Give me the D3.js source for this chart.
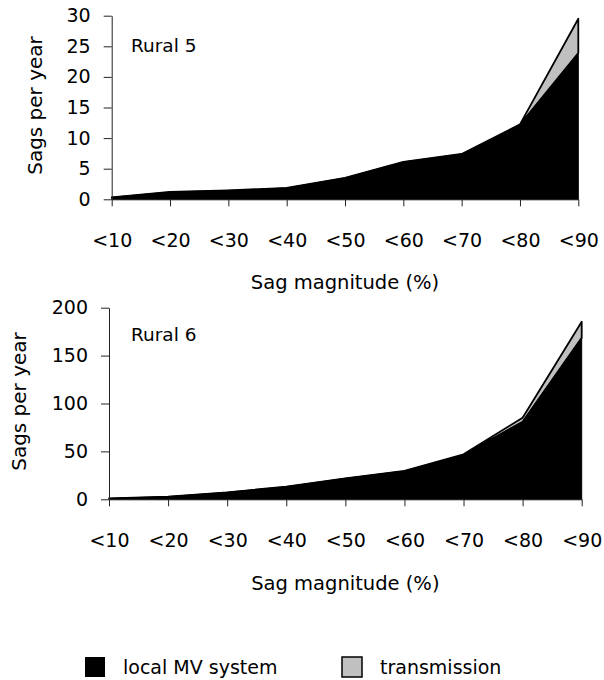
<!DOCTYPE html>
<html><head><meta charset="utf-8">
<script src="https://cdn.jsdelivr.net/npm/d3@7"></script>
<style>
body{margin:0;background:#fff}
svg text{font-family:"DejaVu Sans",sans-serif;fill:#000}
</style></head>
<body><svg id="chart" width="604" height="680"></svg>
<script>
const categories = ["<10","<20","<30","<40","<50","<60","<70","<80","<90"];
const rural5Local = [0.33,1.2,1.45,1.85,3.5,6.1,7.4,12.2,23.9];
const rural5Trans = [0,0,0,0,0,0,0,0.05,5.6];
const rural6Local = [1,2.8,7.3,13.2,21.9,29.6,46.5,81,168.7];
const rural6Trans = [0,0,0,0,0,0,0.5,4.2,16.7];
const rural5Ticks = [0,5,10,15,20,25,30];
const rural6Ticks = [0,50,100,150,200];
const seriesNames = ["local MV system","transmission"];
const seriesColors = ["#000000","#c0c0c0"];

const svg = d3.select("#chart");

function panel(opts){
  const {local, trans, ticks, yMax, left, right, top, bottom, name, titleX, labelX, labelY, xTitleY} = opts;
  const x = d3.scalePoint().domain(categories).range([left,right]);
  const y = d3.scaleLinear().domain([0,yMax]).range([bottom,top]);
  const rows = categories.map((c,i)=>({cat:c, local:local[i], trans:trans[i]}));
  const stack = d3.stack().keys(["local","trans"])(rows);
  const area = d3.area().x(d=>x(d.data.cat)).y0(d=>y(d[0])).y1(d=>y(d[1]));
  const g = svg.append("g");
  g.append("path").datum(stack[1]).attr("d",area)
    .attr("fill",seriesColors[1]).attr("stroke","#000").attr("stroke-width",1.8).attr("stroke-linejoin","round");
  g.append("path").datum(stack[0]).attr("d",area)
    .attr("fill",seriesColors[0]).attr("stroke","#000").attr("stroke-width",1);

  const ya = g.append("g").attr("transform",`translate(${left},0)`)
    .call(d3.axisLeft(y).tickValues(ticks).tickSize(8).tickSizeOuter(0).tickPadding(13));
  const xa = g.append("g").attr("transform",`translate(0,${bottom})`)
    .call(d3.axisBottom(x).tickSize(7).tickSizeOuter(0).tickPadding(27));
  [ya,xa].forEach(a=>{
    a.selectAll("text").style("font-size","19px").attr("fill","#000");
    a.select(".domain").attr("stroke","#222");
    a.selectAll(".tick line").attr("stroke","#222");
  });

  g.append("text").attr("transform",`translate(${titleX},${(top+bottom)/2 - 2}) rotate(-90)`)
    .attr("text-anchor","middle").attr("dominant-baseline","central")
    .style("font-size","20px").text("Sags per year");
  g.append("text").attr("x",labelX).attr("y",labelY)
    .attr("dominant-baseline","central").style("font-size","18.5px").text(name);
  g.append("text").attr("x",(left+right)/2).attr("y",xTitleY)
    .attr("text-anchor","middle").attr("dominant-baseline","central")
    .style("font-size","19.5px").text("Sag magnitude (%)");
}

panel({local:rural5Local, trans:rural5Trans, ticks:rural5Ticks, yMax:30,
  left:111.7, right:578.3, top:15.7, bottom:199.3, name:"Rural 5",
  titleX:35, labelX:131, labelY:45, xTitleY:282});
panel({local:rural6Local, trans:rural6Trans, ticks:rural6Ticks, yMax:200,
  left:109, right:581.7, top:307.7, bottom:499.3, name:"Rural 6",
  titleX:19, labelX:131, labelY:334, xTitleY:583});

const legend = svg.append("g");
const legendX = [85, 342];
seriesNames.forEach((n,i)=>{
  legend.append("rect").attr("x",legendX[i]).attr("y",657).attr("width",20).attr("height",20)
    .attr("fill",seriesColors[i]).attr("stroke","#000").attr("stroke-width",i===0?0:1.5);
  legend.append("text").attr("x",legendX[i]+38).attr("y",667).attr("dominant-baseline","central")
    .style("font-size","19px").text(n);
});
</script></body></html>
